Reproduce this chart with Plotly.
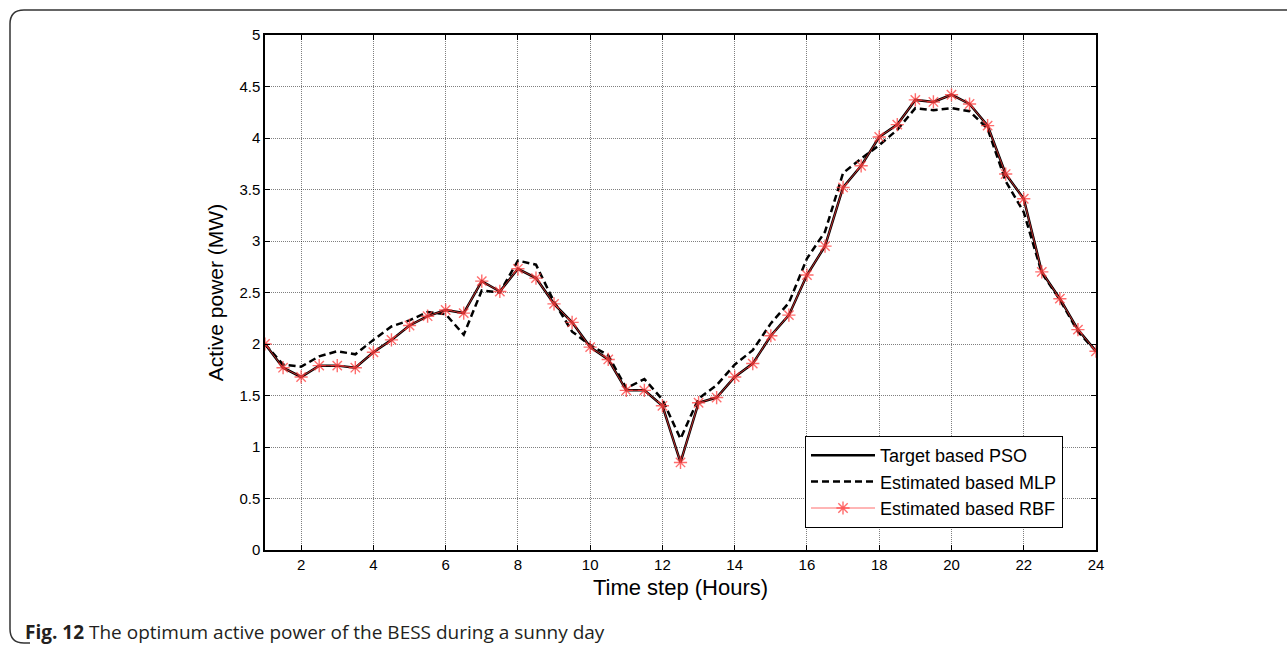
import plotly.graph_objects as go

hours = [1, 1.5, 2, 2.5, 3, 3.5, 4, 4.5, 5, 5.5, 6, 6.5, 7, 7.5, 8, 8.5, 9, 9.5, 10, 10.5,
         11, 11.5, 12, 12.5, 13, 13.5, 14, 14.5, 15, 15.5, 16, 16.5, 17, 17.5, 18, 18.5,
         19, 19.5, 20, 20.5, 21, 21.5, 22, 22.5, 23, 23.5, 24]

target_pso = [2.00, 1.77, 1.68, 1.79, 1.79, 1.77, 1.92, 2.04, 2.18, 2.27, 2.33, 2.30, 2.61, 2.51,
              2.73, 2.64, 2.39, 2.21, 1.97, 1.85, 1.55, 1.55, 1.40, 0.85, 1.43, 1.48, 1.68, 1.81,
              2.08, 2.28, 2.67, 2.95, 3.52, 3.73, 4.01, 4.13, 4.37, 4.35, 4.42, 4.33, 4.12, 3.65,
              3.41, 2.70, 2.44, 2.14, 1.93]

estimated_mlp = [2.00, 1.80, 1.78, 1.88, 1.93, 1.90, 2.04, 2.17, 2.23, 2.31, 2.29, 2.09, 2.52, 2.50,
                 2.81, 2.77, 2.41, 2.12, 1.99, 1.89, 1.57, 1.66, 1.46, 1.08, 1.47, 1.60, 1.80, 1.94,
                 2.20, 2.40, 2.83, 3.09, 3.66, 3.80, 3.93, 4.08, 4.29, 4.27, 4.29, 4.26, 4.09, 3.58,
                 3.28, 2.69, 2.43, 2.12, 1.93]

estimated_rbf = [2.00, 1.77, 1.68, 1.79, 1.79, 1.77, 1.92, 2.04, 2.18, 2.27, 2.33, 2.30, 2.61, 2.51,
                 2.73, 2.64, 2.39, 2.21, 1.97, 1.85, 1.55, 1.55, 1.40, 0.85, 1.43, 1.48, 1.68, 1.81,
                 2.08, 2.28, 2.67, 2.95, 3.52, 3.73, 4.01, 4.13, 4.37, 4.35, 4.42, 4.33, 4.12, 3.65,
                 3.41, 2.70, 2.44, 2.14, 1.93]

x_ticks = [2, 4, 6, 8, 10, 12, 14, 16, 18, 20, 22, 24]
y_ticks = [0, 0.5, 1, 1.5, 2, 2.5, 3, 3.5, 4, 4.5, 5]

W, H = 1287, 645
L, R, T, B = 265, 1096, 35, 550

fig = go.Figure()
fig.add_trace(go.Scatter(x=hours, y=target_pso, mode="lines", name="Target based PSO",
                         line=dict(color="black", width=2.5)))
fig.add_trace(go.Scatter(x=hours, y=estimated_mlp, mode="lines", name="Estimated based MLP",
                         line=dict(color="black", width=2.5, dash="7px,4px")))
fig.add_trace(go.Scatter(x=hours, y=estimated_rbf, mode="lines+markers", name="Estimated based RBF",
                         line=dict(color="rgba(255,60,60,0.75)", width=1),
                         marker=dict(symbol="asterisk-open", size=11,
                                     line=dict(color="rgba(255,0,0,0.9)", width=1.4))))

axis_common = dict(showline=True, linecolor="black", linewidth=1.5, mirror="ticks",
                   ticks="inside", ticklen=5, tickcolor="black", tickwidth=1,
                   showgrid=True, gridcolor="rgba(0,0,0,0.5)", gridwidth=1, griddash="1px,1px",
                   zeroline=False, tickfont=dict(family="Liberation Sans", size=15, color="black"))

fig.update_xaxes(range=[1, 24], tickvals=x_ticks, ticktext=[str(v) for v in x_ticks],
                 title=dict(text="Time step (Hours)", font=dict(family="Liberation Sans", size=22, color="black"),
                            standoff=8), **axis_common)
fig.update_yaxes(range=[0, 5], tickvals=y_ticks, ticktext=[("%g" % v) for v in y_ticks],
                 title=dict(text="Active power (MW)", font=dict(family="Liberation Sans", size=21, color="black"),
                            standoff=10), **axis_common)

pw, ph = R - L, B - T
def px(xp):
    return (xp - L) / pw
def py(yp):
    return (B - yp) / ph

r = 14
path = (f"M {px(1300)} {py(10)} L {px(10 + r)} {py(10)} "
        f"Q {px(10)} {py(10)} {px(10)} {py(10 + r)} "
        f"L {px(10)} {py(643 - r)} Q {px(10)} {py(643)} {px(10 + r)} {py(643)} L {px(30)} {py(643)}")
fig.add_shape(type="path", path=path, xref="paper", yref="paper",
              line=dict(color="#333333", width=1.5), layer="above")

fig.add_annotation(x=px(23), y=py(632), xref="paper", yref="paper", xanchor="left", yanchor="middle",
                   showarrow=False,
                   text="<b>Fig. 12</b> The optimum active power of the BESS during a sunny day",
                   font=dict(family="Open Sans", size=19, color="#231f20"))

fig.update_layout(
    width=W, height=H,
    margin=dict(l=L, r=W - R, t=T, b=H - B),
    paper_bgcolor="white", plot_bgcolor="white",
    showlegend=True,
    legend=dict(x=px(805), y=py(436), xanchor="left", yanchor="top",
                bgcolor="white", bordercolor="black", borderwidth=1,
                font=dict(family="Liberation Sans", size=18, color="black"),
                itemwidth=64, tracegroupgap=0),
)

fig.write_html("out.html")
